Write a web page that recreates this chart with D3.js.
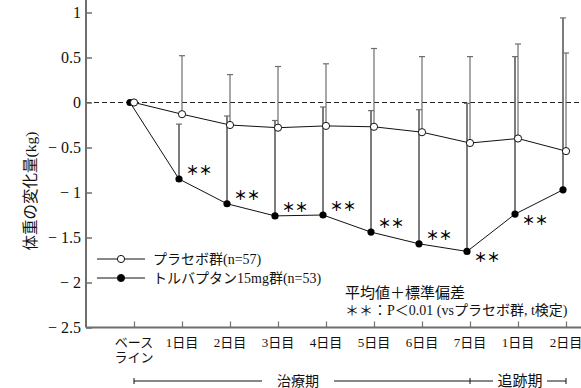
<!DOCTYPE html>
<html><head><meta charset="utf-8">
<script src="https://cdn.jsdelivr.net/npm/d3@7"></script>
<style>
html,body{margin:0;padding:0;background:#fff;}
svg{display:block;}
text{font-family:"Liberation Serif","DejaVu Serif","Noto Sans CJK JP",serif;fill:#111;}
text.ast{font-family:"Noto Sans CJK JP",sans-serif;fill:#000;font-weight:700;}
</style></head>
<body>
<svg id="chart" width="581" height="388"></svg>
<script>
const categories = ["ベース|ライン","1日目","2日目","3日目","4日目","5日目","6日目","7日目","1日目","2日目"];
const placeboMean  = [0, -0.13, -0.25, -0.28, -0.26, -0.27, -0.33, -0.45, -0.40, -0.54];
const placeboUpper = [null, 0.52, 0.31, 0.40, 0.43, 0.60, 0.51, 0.51, 0.65, 0.55];
const tolvMean     = [0, -0.85, -1.125, -1.26, -1.25, -1.44, -1.57, -1.655, -1.24, -0.97];
const tolvUpper    = [null, -0.24, -0.15, -0.20, -0.05, -0.09, -0.08, -0.01, 0.51, 0.94];
const sigAbove     = [false, true, true, true, true, true, true, false, false, false];
const sigBelow     = [false, false, false, false, false, false, false, true, true, false];
const yTicks = [1, 0.5, 0, -0.5, -1, -1.5, -2, -2.5];
const yTickLabels = ["1","0.5","0","− 0.5","− 1","− 1.5","− 2","− 2.5"];
const legendLabels = ["プラセボ群(n=57)","トルバプタン15mg群(n=53)"];
const noteLines = ["平均値＋標準偏差","＊＊：P＜0.01 (vsプラセボ群, t検定)"];
const yTitle = "体重の変化量(kg)";
const periods = ["治療期","追跡期"];

const svg = d3.select("#chart");
const W = 581, H = 388;
const x = d3.scaleLinear().domain([0, 9]).range([134, 566]);
const y = d3.scaleLinear().domain([-2.5, 1]).range([327.5, 12.5]);
const axisX = 86, axisY = y(-2.5);
const gray = "#6e6e6e";
const tolvOff = -3;

// zero dashed line
svg.append("line").attr("x1", axisX).attr("x2", W).attr("y1", y(0)).attr("y2", y(0))
  .attr("stroke", "#222").attr("stroke-width", 1).attr("stroke-dasharray", "5,3");

// axes
const yAxis = d3.axisRight(y).tickValues(yTicks).tickSize(6).tickFormat("");
const gy = svg.append("g").attr("transform", `translate(${axisX},0)`).call(yAxis);
gy.select(".domain").remove();
gy.selectAll(".tick line").attr("stroke", gray).attr("stroke-width", 1.5);
svg.append("line").attr("x1", axisX).attr("x2", axisX).attr("y1", 0).attr("y2", axisY)
  .attr("stroke", gray).attr("stroke-width", 2);
yTicks.forEach((v, i) => {
  svg.append("text").attr("x", 81).attr("y", y(v)).attr("dy", "0.35em")
    .attr("text-anchor", "end").attr("font-size", 16).text(yTickLabels[i]);
});

const xAxis = d3.axisTop(x).tickValues(d3.range(categories.length)).tickSize(6).tickFormat("");
const gx = svg.append("g").attr("transform", `translate(0,${axisY})`).call(xAxis);
gx.select(".domain").remove();
gx.selectAll(".tick line").attr("stroke", gray).attr("stroke-width", 1.2);
svg.append("line").attr("x1", axisX).attr("x2", W).attr("y1", axisY).attr("y2", axisY)
  .attr("stroke", gray).attr("stroke-width", 2);

categories.forEach((c, i) => {
  const parts = c.split("|");
  parts.forEach((p, j) => {
    svg.append("text").attr("x", x(i)).attr("y", 347 + j * 15)
      .attr("text-anchor", "middle").attr("font-size", 13).text(p);
  });
});

// y title
svg.append("text").attr("transform", `translate(36,191) rotate(-90)`)
  .attr("text-anchor", "middle").attr("font-size", 15.5).text(yTitle);

// error bars
function errBars(mean, upper, off, w) {
  mean.forEach((m, i) => {
    if (upper[i] === null) return;
    const cx = x(i) + off;
    svg.append("line").attr("x1", cx).attr("x2", cx).attr("y1", y(m)).attr("y2", y(upper[i]))
      .attr("stroke", gray).attr("stroke-width", w);
    svg.append("line").attr("x1", cx - 3).attr("x2", cx + 3).attr("y1", y(upper[i])).attr("y2", y(upper[i]))
      .attr("stroke", gray).attr("stroke-width", 1.2);
  });
}
errBars(tolvMean, tolvUpper, tolvOff, 1.8);
errBars(placeboMean, placeboUpper, 0, 1.2);

// lines
const tx = i => x(i) + tolvOff - (i === 0 ? 1 : 0);
const lineP = d3.line().x((d, i) => x(i)).y(d => y(d));
const lineT = d3.line().x((d, i) => tx(i)).y(d => y(d));
svg.append("path").attr("d", lineT(tolvMean)).attr("fill", "none").attr("stroke", "#111").attr("stroke-width", 1);
svg.append("path").attr("d", lineP(placeboMean)).attr("fill", "none").attr("stroke", "#111").attr("stroke-width", 1);

// points
tolvMean.forEach((m, i) => {
  svg.append("circle").attr("cx", tx(i)).attr("cy", y(m)).attr("r", 3.6).attr("fill", "#000");
});
placeboMean.forEach((m, i) => {
  svg.append("circle").attr("cx", x(i)).attr("cy", y(m)).attr("r", 3.6)
    .attr("fill", "#fff").attr("stroke", "#111").attr("stroke-width", 1);
});

// significance marks
tolvMean.forEach((m, i) => {
  if (!sigAbove[i] && !sigBelow[i]) return;
  const ty = sigAbove[i] ? y(m) - 9 : y(m) + 6;
  svg.append("text").attr("class", "ast").attr("x", tx(i) + 7).attr("y", ty).attr("dy", "0.38em")
    .attr("font-size", 13).text("＊＊");
});

// legend
[[259, false], [278, true]].forEach(([ly, filled], k) => {
  svg.append("line").attr("x1", 97).attr("x2", 145).attr("y1", ly).attr("y2", ly)
    .attr("stroke", "#111").attr("stroke-width", 1);
  svg.append("circle").attr("cx", 121).attr("cy", ly).attr("r", 3.6)
    .attr("fill", filled ? "#000" : "#fff").attr("stroke", "#111").attr("stroke-width", 1);
  svg.append("text").attr("x", 153).attr("y", ly).attr("dy", "0.36em")
    .attr("font-size", 14).text(legendLabels[k]);
});

// note
noteLines.forEach((t, k) => {
  svg.append("text").attr("x", 345).attr("y", 293 + k * 17).attr("dy", "0.36em")
    .attr("font-size", k === 0 ? 15 : 14).text(t);
});

// period brackets
const by = 381;
function seg(x1, x2) {
  svg.append("line").attr("x1", x1).attr("x2", x2).attr("y1", by).attr("y2", by)
    .attr("stroke", "#111").attr("stroke-width", 1);
}
seg(x(0), 262); seg(334, x(7)); seg(x(7), 493); seg(547, x(9));
[x(0), x(7), x(9)].forEach(px => {
  svg.append("line").attr("x1", px).attr("x2", px).attr("y1", by - 3).attr("y2", by + 3)
    .attr("stroke", "#111").attr("stroke-width", 1);
});
svg.append("text").attr("x", 298).attr("y", by).attr("dy", "0.36em").attr("text-anchor", "middle")
  .attr("font-size", 14).text(periods[0]);
svg.append("text").attr("x", 520).attr("y", by).attr("dy", "0.36em").attr("text-anchor", "middle")
  .attr("font-size", 15).text(periods[1]);
</script>
</body></html>
